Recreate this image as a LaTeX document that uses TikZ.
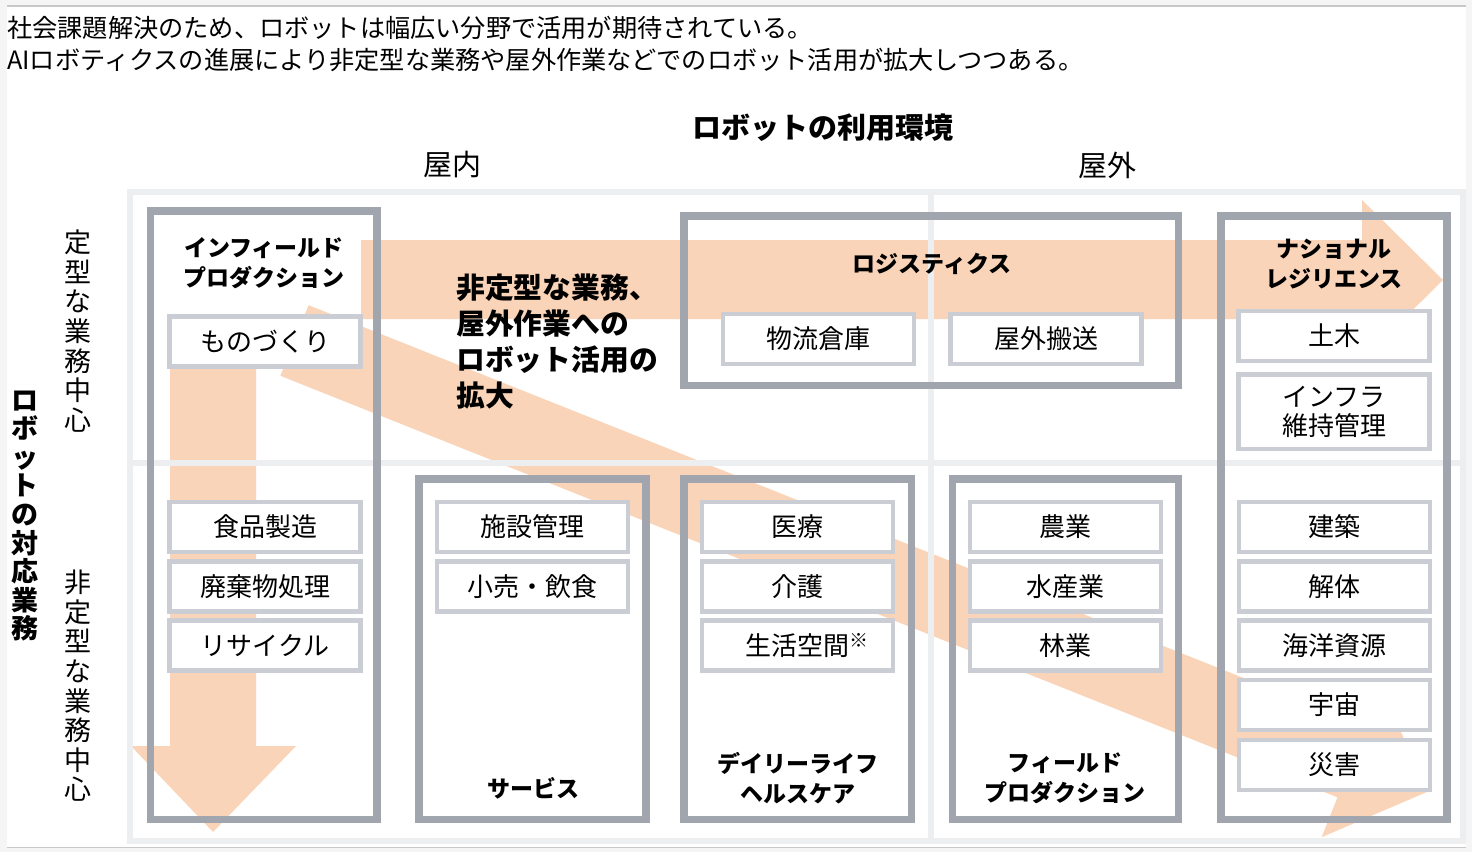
\documentclass[tikz,border=0pt]{standalone}
\usepackage{fontspec}
\setmainfont{Noto Sans CJK JP}
\definecolor{peach}{RGB}{250,212,184}
\definecolor{framegray}{RGB}{160,165,174}
\definecolor{itemgray}{RGB}{202,206,212}
\definecolor{gridgray}{RGB}{237,238,240}
\definecolor{outergray}{RGB}{245,245,245}
\definecolor{rulegray}{RGB}{200,200,200}
\tikzset{
  itembox/.style={draw=itemgray, line width=4.5pt, fill=white, inner sep=0pt,
    minimum width=191pt, minimum height=50pt, align=center,
    font=\fontsize{26}{29}\selectfont, text=black},
  bigframe/.style={draw=framegray, line width=7.5pt},
  gridline/.style={draw=gridgray, line width=6pt},
  head/.style={font=\bfseries\fontsize{23}{30}\selectfont, align=center, inner sep=0pt},
  vlab/.style={align=center, inner sep=0pt, font=\fontsize{27}{29.6}\selectfont},
  plain/.style={inner sep=0pt, font=\fontsize{29}{32}\selectfont},
  arrowfill/.style={fill=peach},
}
\begin{document}
\begin{tikzpicture}[x=1pt,y=-1pt]
\useasboundingbox (0,0) rectangle (1472,852);
% page margins
\fill[outergray] (0,0) rectangle (1472,852);
\fill[white] (7,7) rectangle (1466,846.5);
\draw[rulegray, line width=1.5pt] (7,6.2) -- (1466,6.2);
\draw[rulegray, line width=1.5pt] (7,847.5) -- (1466,847.5);

% intro text
\node[anchor=west, inner sep=0pt, font=\fontsize{25.2}{28}\selectfont] (intro1) at (7,28) {社会課題解決のため、ロボットは幅広い分野で活用が期待されている。};
\node[anchor=west, inner sep=0pt, font=\fontsize{25.2}{28}\selectfont] (intro2) at (7,60) {AIロボティクスの進展により非定型な業務や屋外作業などでのロボット活用が拡大しつつある。};

% headings
\node[inner sep=0pt, font=\bfseries\fontsize{29}{32}\selectfont] (env) at (823,128) {ロボットの利用環境};
\node[plain] (indoor) at (452,165) {屋内};
\node[plain] (outdoor) at (1107,165) {屋外};

% left vertical labels
\node[vlab, font=\bfseries\fontsize{27}{28.6}\selectfont] (task) at (25,516) {ロ\\ボ\\ッ\\ト\\の\\対\\応\\業\\務};
\node[vlab] (routine) at (78,331) {定\\型\\な\\業\\務\\中\\心};
\node[vlab] (nonroutine) at (78,686) {非\\定\\型\\な\\業\\務\\中\\心};

% arrows
\fill[arrowfill] (361,240) -- (1362,240) -- (1362,200) -- (1443,280) -- (1362,360) -- (1362,319) -- (361,319) -- cycle;
\fill[arrowfill] (170,330) -- (256,330) -- (256,746) -- (296,746) -- (213,832) -- (131,746) -- (170,746) -- cycle;
\fill[arrowfill] (308.6,305.2) -- (1365.7,726.7) -- (1381.6,686.8) -- (1426.8,792.0) -- (1321.6,837.2) -- (1337.5,797.3) -- (280.4,375.8) -- cycle;

% grid
\draw[gridline] (130,191.5) rectangle (1462.5,841);
\draw[gridline] (931,191.5) -- (931,841);
\draw[gridline] (130,462.5) -- (1462.5,462.5);

% big frames
\draw[bigframe] (150.5,211) rectangle (377,819.5);
\draw[bigframe] (419,479) rectangle (646,819.5);
\draw[bigframe] (684,216) rectangle (1178.5,385.5);
\draw[bigframe] (1221,216) rectangle (1447,819.5);
\draw[bigframe] (684,479) rectangle (911.5,819.5);
\draw[bigframe] (952.5,479) rectangle (1178.5,819.5);

% frame headings
\node[head] (infield) at (264,263) {インフィールド\\プロダクション};
\node[head] (logi) at (932,264) {ロジスティクス};
\node[head] (resil) at (1334,264) {ナショナル\\レジリエンス};
\node[head] (service) at (533,788) {サービス};
\node[head] (daily) at (798,778) {デイリーライフ\\ヘルスケア};
\node[head] (field) at (1065,778) {フィールド\\プロダクション};
\node[anchor=west, align=left, inner sep=0pt, font=\bfseries\fontsize{28.8}{36}\selectfont] (expand) at (456,342) {非定型な業務、\\屋外作業への\\ロボット活用の\\拡大};

% item boxes
\node[itembox] (mono) at (265,341.5) {ものづくり};
\node[itembox] (food) at (265,527) {食品製造};
\node[itembox] (waste) at (265,586.5) {廃棄物処理};
\node[itembox] (recy) at (265,645.5) {リサイクル};
\node[itembox] (fac) at (532.5,527) {施設管理};
\node[itembox] (retail) at (532.5,586.5) {小売・飲食};
\node[itembox] (ware) at (818.5,339) {物流倉庫};
\node[itembox] (trans) at (1046,339) {屋外搬送};
\node[itembox] (civil) at (1334,336) {土木};
\node[itembox, minimum height=74.5pt] (infra) at (1334,411.5) {インフラ\\維持管理};
\node[itembox] (med) at (797.5,527) {医療};
\node[itembox] (care) at (797.5,586.5) {介護};
\node[itembox] (life) at (797.5,645.5) {生活空間\rlap{\raisebox{8pt}{\fontsize{19}{19}\selectfont ※}}};
\node[itembox] (agri) at (1065.5,527) {農業};
\node[itembox] (fish) at (1065.5,586.5) {水産業};
\node[itembox] (forest) at (1065.5,645.5) {林業};
\node[itembox] (build) at (1334.5,527) {建築};
\node[itembox] (demo) at (1334.5,586.5) {解体};
\node[itembox] (ocean) at (1334.5,645.5) {海洋資源};
\node[itembox] (space) at (1334.5,705) {宇宙};
\node[itembox] (disa) at (1334.5,765) {災害};
\end{tikzpicture}
\end{document}
